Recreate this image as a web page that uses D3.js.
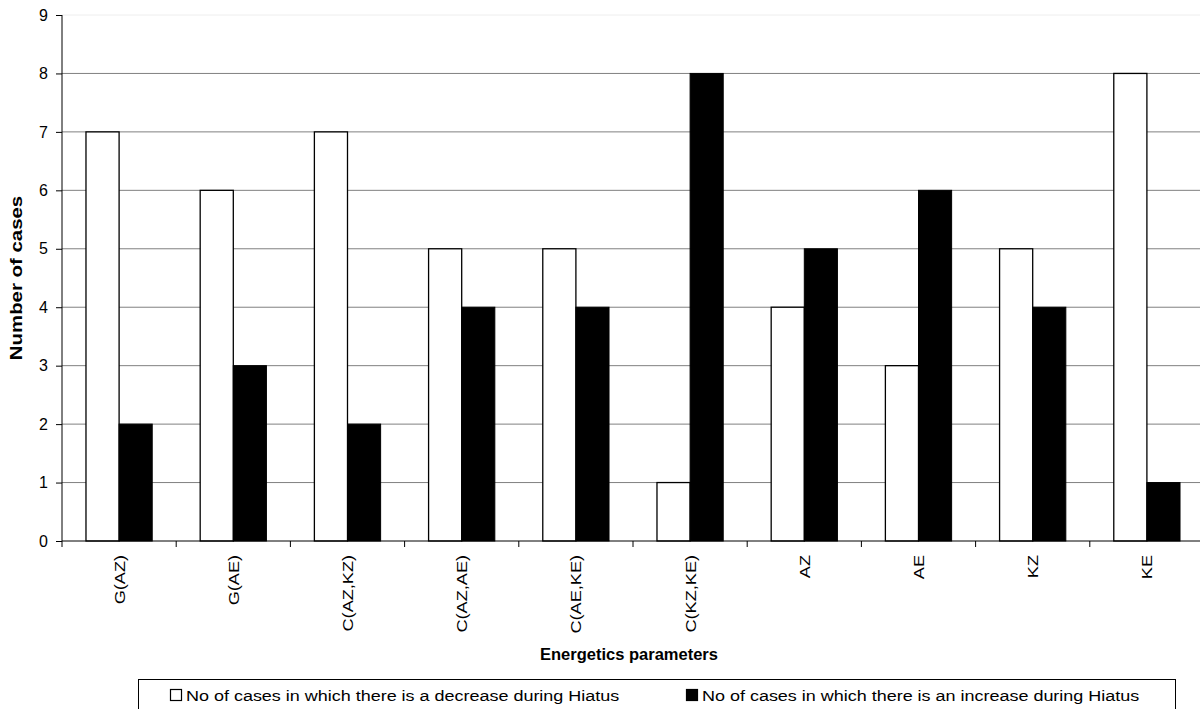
<!DOCTYPE html>
<html><head><meta charset="utf-8">
<script src="https://cdn.jsdelivr.net/npm/d3@7"></script>
<style>body{margin:0;background:#fff}svg{display:block;font-family:"Liberation Sans",Arial,sans-serif}</style>
</head><body>
<svg id="c" width="1200" height="709"></svg>
<script>
const categories = ["G(AZ)","G(AE)","C(AZ,KZ)","C(AZ,AE)","C(AE,KE)","C(KZ,KE)","AZ","AE","KZ","KE"];
const decrease = [7,6,7,5,5,1,4,3,5,8];
const increase = [2,3,2,4,4,8,5,6,4,1];
const yTicks = [0,1,2,3,4,5,6,7,8,9];
const seriesNames = ["No of cases in which there is a decrease during Hiatus","No of cases in which there is an increase during Hiatus"];

const svg = d3.select("#c");
const L = 62, R = 1204, T = 15, B = 541;
const x = d3.scaleBand().domain(categories).range([L, R]).paddingInner(0).paddingOuter(0);
const y = d3.scaleLinear().domain([0, 9]).range([B, T]);
const bw = x.bandwidth();
const barW = bw * 0.29;

svg.append("g").selectAll("line").data(yTicks.filter(d => d > 0)).join("line")
  .attr("x1", L).attr("x2", R).attr("y1", d => y(d)).attr("y2", d => y(d))
  .attr("stroke", d => d === 9 ? "#eeeeee" : "#808080").attr("stroke-width", 1);

const g = svg.append("g");
categories.forEach((c, i) => {
  const cx = x(c) + bw / 2;
  g.append("rect").attr("x", cx - barW).attr("y", y(decrease[i])).attr("width", barW).attr("height", B - y(decrease[i]))
    .attr("fill", "#fff").attr("stroke", "#000").attr("stroke-width", 1.3);
  g.append("rect").attr("x", cx).attr("y", y(increase[i])).attr("width", barW).attr("height", B - y(increase[i]))
    .attr("fill", "#000").attr("stroke", "#000").attr("stroke-width", 1);
});

const ya = svg.append("g").attr("transform", `translate(${L},0)`)
  .call(d3.axisLeft(y).tickValues(yTicks).tickSize(6).tickPadding(8).tickFormat(d3.format("d")));
ya.select(".domain").attr("stroke", "#000").attr("d", `M0,${B}V${T}`);
ya.selectAll(".tick line").attr("stroke", "#000");
ya.selectAll("text").attr("font-size", 16).attr("fill", "#000").attr("font-family", "Liberation Sans, Arial, sans-serif");

const xa = svg.append("g").attr("transform", `translate(0,${B})`);
xa.append("line").attr("x1", L).attr("x2", R).attr("y1", 0).attr("y2", 0).attr("stroke", "#000");
xa.selectAll("line.tk").data(d3.range(categories.length + 1)).join("line").attr("class", "tk")
  .attr("x1", i => L + i * bw).attr("x2", i => L + i * bw).attr("y1", 0).attr("y2", 6).attr("stroke", "#000");
xa.selectAll("text").data(categories).join("text")
  .attr("transform", d => `translate(${x(d) + bw / 2 + 5.5},14) rotate(-90) scale(1.25,1)`)
  .attr("text-anchor", "end").attr("font-size", 14.5).attr("fill", "#000").text(d => d);

svg.append("text").attr("transform", "translate(629,660) scale(1.1,1.1)").attr("text-anchor", "middle")
  .attr("font-size", 15).attr("font-weight", "bold").text("Energetics parameters");
svg.append("text").attr("transform", "translate(22,278) rotate(-90) scale(1.2,1)").attr("text-anchor", "middle")
  .attr("font-size", 17).attr("font-weight", "bold").text("Number of cases");

const lg = svg.append("g");
lg.append("rect").attr("x", 138.5).attr("y", 679.5).attr("width", 1037).attr("height", 40)
  .attr("fill", "#fff").attr("stroke", "#000").attr("stroke-width", 1);
const items = [{x: 170, fill: "#fff"}, {x: 686, fill: "#000"}];
items.forEach((it, i) => {
  lg.append("rect").attr("x", it.x + 0.5).attr("y", 689.5).attr("width", 11).attr("height", 11)
    .attr("fill", it.fill).attr("stroke", "#000").attr("stroke-width", 1.2);
  lg.append("text").attr("transform", `translate(${it.x + 16},701) scale(1.16,1)`).attr("font-size", 15.5).text(seriesNames[i]);
});
</script>
</body></html>
